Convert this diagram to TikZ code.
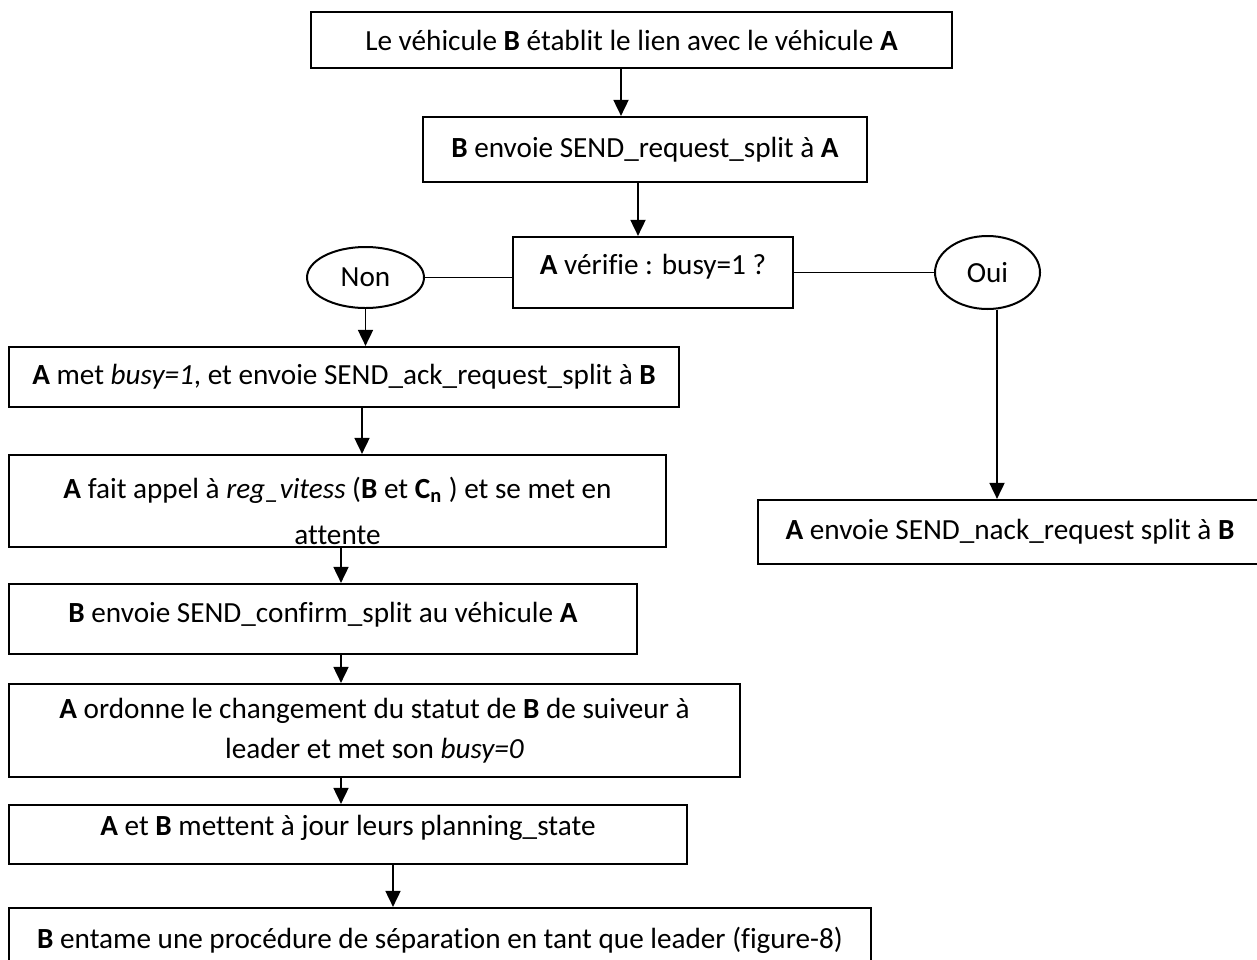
\documentclass[tikz,border=0pt]{standalone}
\usepackage{fontspec}
\setmainfont{Carlito}[Ligatures={NoCommon}]
\usetikzlibrary{shapes.geometric, arrows.meta}

\begin{document}
\begin{tikzpicture}[
  x=0.5pt, y=-0.5pt,
  % Grundstile
  schritt/.style 2 args={
    draw, line width=1.1pt,
    inner sep=0pt,
    minimum width=#1,
    minimum height=#2,
    align=center,
    font=\fontsize{14.6}{20}\selectfont
  },
  antwort/.style 2 args={
    draw, ellipse, line width=1pt,
    inner sep=0pt,
    minimum width=#1,
    minimum height=#2,
    font=\fontsize{14.6}{20}\selectfont
  },
  texte/.style={
    inner sep=0pt, align=center,
    font=\fontsize{14.6}{23}\selectfont
  },
  pfeil/.style={
    line width=0.9pt,
    -{Triangle[length=8pt, width=7.5pt]}
  },
  linie/.style={
    line width=0.9pt
  }
]

% Rahmen
\clip (0,0) rectangle (1257,959);

% =============================================================================
% OBEN: Verbindung und Anfrage
% =============================================================================
\node[schritt={320.5pt}{28pt}] (lien) at (631.5,40)
  {Le véhicule \textbf{B} établit le lien avec le véhicule \textbf{A}};
\node[schritt={222pt}{32.5pt}] (demande) at (645,149.5)
  {\textbf{B} envoie SEND\_request\_split à \textbf{A}};
\node[schritt={140pt}{35.5pt}, text depth=8pt] (verif) at (653,272.5)
  {\textbf{A} vérifie : busy=1 ?};

\draw[pfeil] ([xshift=-5.25pt]lien.south) -- ([xshift=-5.25pt]lien.south |- demande.north);
\draw[pfeil] ([xshift=-3.5pt]demande.south) -- ([xshift=-3.5pt]demande.south |- verif.north);

% Verzweigung Non / Oui
\node[antwort={58.5pt}{30.5pt}] (non) at (365.5,277.5) {Non};
\node[antwort={52.5pt}{36.5pt}] (oui) at (987.5,272.5) {Oui};
\draw[linie] (non.east) -- (non.east -| verif.west);
\draw[linie] (verif.east) -- (verif.east -| oui.west);

% =============================================================================
% RECHTS: Ablehnung
% =============================================================================
\node[schritt={252pt}{32pt}] (nack) at (1010,532)
  {\textbf{A} envoie SEND\_nack\_request split à \textbf{B}};
\draw[pfeil] ([xshift=4.75pt]oui.south) -- ([xshift=4.75pt]oui.south |- nack.north);

% =============================================================================
% LINKS: Ablauf der Trennung
% =============================================================================
\node[schritt={335pt}{30pt}] (ack) at (344,377)
  {\textbf{A} met \textit{busy=1}, et envoie SEND\_ack\_request\_split à \textbf{B}};
\draw[pfeil] (non.south) -- (non.south |- ack.north);

% Text läuft unten aus dem Kasten
\node[schritt={328.5pt}{46pt}] (appel) at (337.5,501) {};
\begin{scope}
  \clip (appel.north west) rectangle (appel.south east);
  \node[texte] (appeltxt) at (337.5,511)
    {\textbf{A} fait appel à \textit{reg\_vitess} (\textbf{B} et \textbf{C\textsubscript{n}} ) et se met en\\attente};
\end{scope}
\draw[pfeil] ([xshift=9pt]ack.south) -- ([xshift=9pt]ack.south |- appel.north);

\node[schritt={314pt}{35pt}, text depth=7pt] (confirm) at (323,619)
  {\textbf{B} envoie SEND\_confirm\_split au véhicule \textbf{A}};
\draw[pfeil] ([xshift=1.75pt]appel.south) -- ([xshift=1.75pt]appel.south |- confirm.north);

\node[schritt={365.5pt}{46.5pt}] (statut) at (374.5,730.5)
  {\textbf{A} ordonne le changement du statut de \textbf{B} de suiveur à\\leader et met son \textit{busy=0}};
\draw[pfeil] ([xshift=9pt]confirm.south) -- ([xshift=9pt]confirm.south |- statut.north);

\node[schritt={339pt}{29.5pt}, text depth=9pt] (planning) at (348,834.5)
  {\textbf{A} et \textbf{B} mettent à jour leurs planning\_state};
\draw[pfeil] ([xshift=-16.75pt]statut.south) -- ([xshift=-16.75pt]statut.south |- planning.north);

\node[schritt={431pt}{32pt}] (separation) at (440,940)
  {\textbf{B} entame une procédure de séparation en tant que leader (figure-8)};
\draw[pfeil] ([xshift=22.5pt]planning.south) -- ([xshift=22.5pt]planning.south |- separation.north);

\end{tikzpicture}
\end{document}
